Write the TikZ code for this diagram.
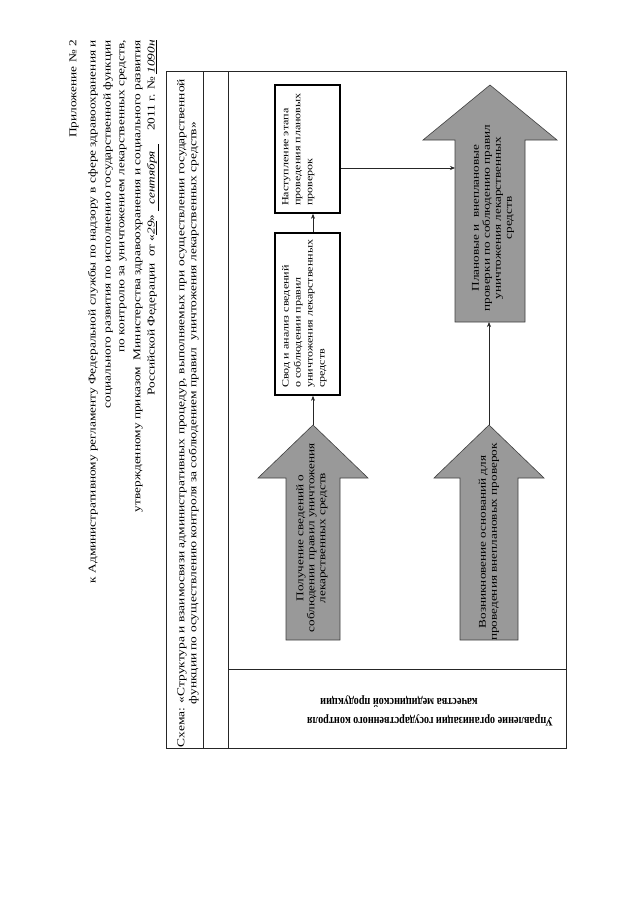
\documentclass[tikz,border=0pt]{standalone}
\usepackage{fontspec}
\setmainfont{Liberation Serif}
\usetikzlibrary{arrows.meta}
\begin{document}
\begin{tikzpicture}[x=1pt,y=-1pt,
  rtext/.style={rotate=90,xscale=1.27,inner sep=0pt},
  hdr/.style={rtext,anchor=east,font=\fontsize{10.5}{12}\selectfont},
  frameline/.style={draw=black!85,line width=0.8pt},
  stepbox/.style={draw=black,line width=1.6pt,inner sep=0pt},
  boxtext/.style={rtext,anchor=north west,align=left,font=\fontsize{9.5}{12}\selectfont},
  blockarrow/.style={fill=black!40,draw=black!75,line width=0.6pt},
  arrowtext/.style={rtext,align=center,font=\fontsize{10.4}{11}\selectfont},
  conn/.style={-{Stealth[length=5pt,width=4pt]},line width=0.6pt,draw=black!85},
  celltext/.style={rotate=180,yscale=1.27,inner sep=0pt,font=\bfseries\fontsize{10.2}{14}\selectfont},
]
\useasboundingbox (0,0) rectangle (640,905);
\fill[white] (0,0) rectangle (640,905);

% header
\node[hdr] (h1) at (74,40) {Приложение № 2};
\node[hdr] (h2) at (93,40) {к Административному регламенту Федеральной службы по надзору в сфере здравоохранения и};
\node[hdr] (h3) at (108,40) {социального развития по исполнению государственной функции};
\node[hdr] (h4) at (123,40) {по контролю за уничтожением лекарственных средств,};
\node[hdr] (h5) at (138,40) {утвержденному приказом\ \ Министерства здравоохранения и социального развития};
\node[hdr] (h6) at (153,40) {Российской Федерации\ \ от «\underline{\itshape 29}» \underline{\itshape\ \ сентября\ \ }\quad 2011 г. № \underline{\itshape 1090н}};

% frame
\draw[frameline] (166,71) rectangle (566,748);
\draw[frameline] (203,71) -- (203,748);
\draw[frameline] (228,71) -- (228,748);
\draw[frameline] (228,669) -- (566,669);

\node[rtext,align=center,font=\fontsize{10.6}{12}\selectfont] (title) at (188,413)
  {Схема: «Структура и взаимосвязи административных процедур, выполняемых при осуществлении государственной\\функции по осуществлению контроля за соблюдением правил\ \ уничтожения лекарственных средств»};

\node[celltext] (cell1) at (430,720) {Управление организации государственного контроля};
\node[celltext] (cell2) at (399,702) {качества медицинской продукции};

% block arrows
\draw[blockarrow] (313,425) -- (368,478) -- (340,478) -- (340,640) -- (286,640) -- (286,478) -- (258,478) -- cycle;
\draw[blockarrow] (489,425) -- (544,478) -- (518,478) -- (518,640) -- (460,640) -- (460,478) -- (434,478) -- cycle;
\draw[blockarrow] (490,85) -- (557,140) -- (525,140) -- (525,322) -- (455,322) -- (455,140) -- (423,140) -- cycle;
\coordinate (a1tip) at (313,425);
\coordinate (a2tip) at (489,425);
\coordinate (a3bot) at (489,322);
\coordinate (a3l) at (455,168);

\node[arrowtext] (a1text) at (312,538) {Получение сведений о\\соблюдении правил уничтожения\\лекарственных средств};
\node[arrowtext] (a2text) at (489,542) {Возникновение оснований для\\проведения внеплановых проверок};
\node[arrowtext] (a3text) at (493,218) {Плановые и\ \ внеплановые\\проверки по соблюдению правил\\уничтожения лекарственных\\средств};

% boxes
\node[stepbox,minimum width=65pt,minimum height=162pt] (boxA) at (307.5,314) {};
\node[stepbox,minimum width=65pt,minimum height=128pt] (boxB) at (307.5,149) {};
\node[boxtext] (boxAtext) at (282,388) {Свод и анализ сведений\\о соблюдении правил\\уничтожения лекарственных\\средств};
\node[boxtext] (boxBtext) at (282,206) {Наступление этапа\\проведения плановых\\проверок};

% connectors
\draw[conn] (a1tip) -- (a1tip |- boxA.south);
\draw[conn] (boxA.north -| a1tip) -- (boxB.south -| a1tip);
\draw[conn] (boxB.east |- a3l) -- (a3l);
\draw[conn] (a2tip) -- (a3bot);
\end{tikzpicture}
\end{document}
